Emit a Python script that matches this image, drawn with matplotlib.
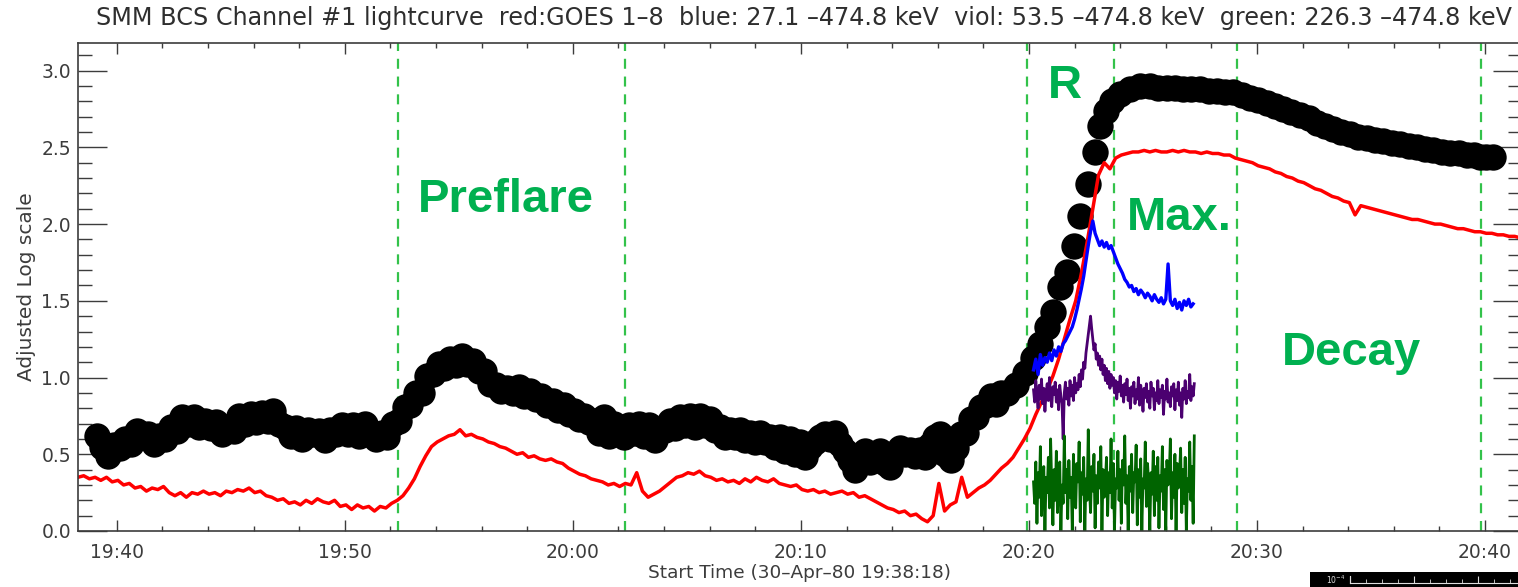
import matplotlib
matplotlib.use("Agg")
import matplotlib.pyplot as plt
from matplotlib.ticker import MultipleLocator, FixedLocator, FixedFormatter, FormatStrFormatter
import numpy as np

plt.rcParams['font.family'] = ['DejaVu Sans']

# time axis: minutes after 19:00 UT on 30-Apr-80
TICK_MIN = [40, 50, 60, 70, 80, 90, 100]
TICK_LABELS = ['19:40', '19:50', '20:00', '20:10', '20:20', '20:30', '20:40']

# phase boundaries (minutes after 19:00)
PHASE_MIN = [52.32, 62.28, 79.91, 83.73, 89.12, 99.82]

# SMM BCS channel 1 (black circles)
bcs_t = [39.12, 39.37, 39.62, 39.87, 40.12, 40.37, 40.62, 40.87, 41.12, 41.37,
         41.62, 41.87, 42.12, 42.37, 42.62, 42.87, 43.12, 43.37, 43.62, 43.87,
         44.12, 44.37, 44.62, 44.87, 45.12, 45.37, 45.62, 45.87, 46.12, 46.37,
         46.62, 46.87, 47.12, 47.37, 47.62, 47.87, 48.12, 48.37, 48.62, 48.87,
         49.12, 49.37, 49.62, 49.87, 50.12, 50.37, 50.62, 50.87, 51.12, 51.37,
         51.62, 51.87, 52.12, 52.37, 52.62, 52.87, 53.12, 53.37, 53.62, 53.87,
         54.12, 54.37, 54.62, 54.87, 55.12, 55.37, 55.62, 55.87, 56.12, 56.37,
         56.62, 56.87, 57.12, 57.37, 57.62, 57.87, 58.12, 58.37, 58.62, 58.87,
         59.12, 59.37, 59.62, 59.84, 60.06, 60.28, 60.50, 60.72, 60.94, 61.16,
         61.38, 61.60, 61.82, 62.04, 62.26, 62.48, 62.70, 62.92, 63.14, 63.36,
         63.58, 63.80, 64.02, 64.24, 64.46, 64.68, 64.90, 65.12, 65.34, 65.56,
         65.78, 66.00, 66.22, 66.44, 66.66, 66.88, 67.10, 67.32, 67.54, 67.76,
         67.98, 68.20, 68.42, 68.64, 68.86, 69.08, 69.30, 69.52, 69.74, 69.96,
         70.18, 70.40, 70.62, 70.84, 71.06, 71.28, 71.50, 71.72, 71.94, 72.16,
         72.38, 72.60, 72.82, 73.04, 73.26, 73.48, 73.70, 73.92, 74.14, 74.36,
         74.58, 74.80, 75.02, 75.24, 75.46, 75.68, 75.90, 76.12, 76.34, 76.56,
         76.78, 77.00, 77.22, 77.44, 77.66, 77.88, 78.10, 78.32, 78.54, 78.76,
         79.04, 79.43, 79.82, 80.18, 80.48, 80.79, 81.05, 81.36, 81.67, 81.97,
         82.24, 82.59, 82.89, 83.11, 83.38, 83.64, 83.99, 84.43, 84.87, 85.31,
         85.68, 86.05, 86.40, 86.75, 87.12, 87.50, 87.88, 88.25, 88.60, 88.95,
         89.32, 89.69, 90.06, 90.44, 90.80, 91.14, 91.50, 91.89, 92.26, 92.63,
         92.98, 93.33, 93.70, 94.08, 94.45, 94.82, 95.18, 95.53, 95.90, 96.27,
         96.65, 97.02, 97.37, 97.72, 98.10, 98.46, 98.84, 99.21, 99.50, 99.78,
         100.05, 100.35]
bcs_v = [0.62, 0.55, 0.49, 0.56, 0.54, 0.60, 0.57, 0.65, 0.61, 0.63,
         0.57, 0.62, 0.60, 0.68, 0.65, 0.74, 0.70, 0.74, 0.68, 0.72,
         0.67, 0.71, 0.63, 0.68, 0.65, 0.75, 0.70, 0.76, 0.71, 0.77,
         0.72, 0.78, 0.70, 0.68, 0.62, 0.67, 0.60, 0.66, 0.63, 0.65,
         0.59, 0.66, 0.63, 0.69, 0.63, 0.69, 0.62, 0.70, 0.63, 0.60,
         0.64, 0.61, 0.70, 0.72, 0.81, 0.82, 0.90, 0.90, 1.01, 1.02,
         1.09, 1.06, 1.12, 1.08, 1.14, 1.09, 1.11, 1.04, 1.04, 0.96,
         0.95, 0.91, 0.93, 0.90, 0.94, 0.88, 0.91, 0.86, 0.88, 0.82,
         0.85, 0.79, 0.82, 0.76, 0.78, 0.73, 0.75, 0.71, 0.72, 0.64,
         0.74, 0.62, 0.70, 0.64, 0.61, 0.69, 0.64, 0.70, 0.62, 0.69,
         0.59, 0.65, 0.66, 0.72, 0.67, 0.74, 0.69, 0.75, 0.68, 0.75,
         0.69, 0.73, 0.66, 0.68, 0.61, 0.66, 0.61, 0.66, 0.59, 0.64,
         0.58, 0.64, 0.58, 0.61, 0.55, 0.61, 0.52, 0.60, 0.50, 0.58,
         0.48, 0.55, 0.58, 0.61, 0.63, 0.60, 0.64, 0.57, 0.52, 0.46,
         0.40, 0.49, 0.52, 0.45, 0.50, 0.52, 0.44, 0.42, 0.51, 0.54,
         0.50, 0.53, 0.49, 0.53, 0.48, 0.56, 0.61, 0.63, 0.50, 0.46,
         0.54, 0.63, 0.64, 0.73, 0.74, 0.81, 0.82, 0.88, 0.83, 0.90,
         0.90, 0.95, 1.03, 1.13, 1.22, 1.33, 1.43, 1.59, 1.69, 1.86,
         2.05, 2.26, 2.47, 2.64, 2.74, 2.80, 2.85, 2.88, 2.90, 2.90,
         2.89, 2.89, 2.89, 2.88, 2.88, 2.88, 2.87, 2.87, 2.86, 2.86,
         2.84, 2.82, 2.81, 2.79, 2.77, 2.75, 2.73, 2.71, 2.69, 2.66,
         2.64, 2.62, 2.60, 2.59, 2.57, 2.56, 2.55, 2.54, 2.53, 2.52,
         2.51, 2.50, 2.49, 2.48, 2.47, 2.46, 2.46, 2.45, 2.45, 2.44,
         2.44, 2.44]

# GOES 1-8 A, one sample every 15 s from 19:38:18
goes_t0 = 38.30
goes_dt = 0.25
goes_v = [0.35, 0.36, 0.34, 0.35, 0.33, 0.35, 0.32, 0.33, 0.30, 0.31,
          0.28, 0.29, 0.26, 0.28, 0.27, 0.29, 0.25, 0.23, 0.25, 0.22,
          0.25, 0.24, 0.26, 0.24, 0.25, 0.23, 0.26, 0.25, 0.27, 0.26,
          0.28, 0.25, 0.26, 0.23, 0.22, 0.20, 0.21, 0.18, 0.19, 0.17,
          0.20, 0.18, 0.21, 0.19, 0.18, 0.20, 0.16, 0.17, 0.14, 0.17,
          0.15, 0.16, 0.13, 0.16, 0.15, 0.18, 0.20, 0.23, 0.28, 0.34,
          0.42, 0.49, 0.55, 0.58, 0.60, 0.62, 0.63, 0.66, 0.62, 0.63,
          0.61, 0.60, 0.58, 0.57, 0.55, 0.54, 0.52, 0.50, 0.51, 0.48,
          0.49, 0.47, 0.46, 0.47, 0.45, 0.44, 0.41, 0.39, 0.37, 0.36,
          0.34, 0.33, 0.32, 0.30, 0.31, 0.29, 0.31, 0.30, 0.38, 0.26,
          0.22, 0.24, 0.26, 0.29, 0.32, 0.35, 0.36, 0.38, 0.37, 0.39,
          0.36, 0.35, 0.33, 0.34, 0.32, 0.33, 0.31, 0.34, 0.32, 0.35,
          0.33, 0.32, 0.34, 0.31, 0.30, 0.29, 0.30, 0.27, 0.26, 0.27,
          0.25, 0.26, 0.24, 0.25, 0.26, 0.24, 0.25, 0.22, 0.23, 0.21,
          0.19, 0.17, 0.15, 0.14, 0.12, 0.13, 0.10, 0.11, 0.08, 0.06,
          0.10, 0.31, 0.13, 0.17, 0.19, 0.35, 0.22, 0.25, 0.28, 0.30,
          0.33, 0.37, 0.41, 0.44, 0.48, 0.54, 0.60, 0.67, 0.76, 0.84,
          0.92, 1.01, 1.12, 1.25, 1.38, 1.50, 1.68, 1.88, 2.10, 2.32,
          2.40, 2.36, 2.43, 2.45, 2.46, 2.47, 2.47, 2.48, 2.47, 2.48,
          2.47, 2.47, 2.48, 2.47, 2.48, 2.47, 2.47, 2.46, 2.47, 2.46,
          2.46, 2.45, 2.45, 2.43, 2.42, 2.41, 2.40, 2.38, 2.37, 2.36,
          2.34, 2.33, 2.31, 2.30, 2.28, 2.27, 2.25, 2.23, 2.22, 2.20,
          2.18, 2.17, 2.15, 2.14, 2.06, 2.12, 2.11, 2.10, 2.09, 2.08,
          2.07, 2.06, 2.05, 2.04, 2.03, 2.03, 2.02, 2.01, 2.00, 2.00,
          1.99, 1.98, 1.97, 1.97, 1.96, 1.95, 1.95, 1.94, 1.94, 1.93,
          1.93, 1.92, 1.92, 1.91]

# HXRBS channels from 20:20:12; blue every 6 s, violet and green every 3 s
hxr_t0 = 80.2
blue_dt = 0.1
blue_v = [1.05, 1.12, 1.02, 1.15, 1.08, 1.13, 1.10, 1.16, 1.11, 1.18,
          1.14, 1.20, 1.17, 1.22, 1.24, 1.27, 1.30, 1.33, 1.38, 1.44,
          1.51, 1.58, 1.66, 1.76, 1.86, 1.95, 2.02, 1.94, 1.90, 1.86,
          1.89, 1.85, 1.88, 1.84, 1.86, 1.82, 1.78, 1.74, 1.71, 1.68,
          1.64, 1.62, 1.59, 1.60, 1.56, 1.58, 1.54, 1.57, 1.55, 1.52,
          1.55, 1.53, 1.50, 1.54, 1.51, 1.49, 1.52, 1.48, 1.51, 1.74,
          1.50, 1.47, 1.51, 1.45, 1.49, 1.44, 1.50, 1.47, 1.51, 1.46,
          1.48]
fast_dt = 0.05
viol_v = [0.92, 0.84, 0.98, 0.88, 0.80, 0.95, 0.86, 0.99, 0.83, 0.93,
          0.78, 0.90, 0.96, 0.85, 1.00, 0.87, 0.81, 0.94, 0.89, 0.97,
          0.84, 0.92, 0.79, 0.95, 0.88, 0.83, 0.60, 0.90, 0.97, 0.86,
          0.93, 0.82, 0.98, 0.88, 0.95, 0.85, 1.00, 0.90, 0.96, 0.92,
          1.02, 0.94, 1.05, 0.99, 1.10, 1.06, 1.16, 1.22, 1.28, 1.34,
          1.40, 1.32, 1.25, 1.18, 1.22, 1.12, 1.16, 1.08, 1.14, 1.05,
          1.12, 1.02, 1.08, 0.98, 1.06, 0.96, 1.04, 0.93, 1.02, 0.95,
          1.00, 0.90, 0.98, 0.86, 0.97, 0.91, 1.01, 0.88, 0.95, 0.84,
          0.96, 0.89, 0.99, 0.85, 0.93, 0.80, 0.94, 0.88, 0.97, 0.83,
          0.92, 0.86, 1.00, 0.82, 0.95, 0.89, 0.78, 0.93, 0.87, 0.96,
          0.84, 0.91, 0.80, 0.97, 0.88, 0.93, 0.79, 0.90, 0.85, 0.98,
          0.83, 0.92, 0.87, 0.95, 0.76, 0.91, 0.86, 0.99, 0.84, 0.90,
          0.81, 0.94, 0.88, 0.96, 0.79, 0.92, 0.85, 0.97, 0.82, 0.90,
          0.74, 0.93, 0.86, 0.98, 0.83, 0.91, 0.87, 1.02, 0.85, 0.94,
          0.88, 0.96]
green_v = [0.32, 0.18, 0.45, 0.05, 0.38, 0.22, 0.55, 0.10, 0.30, 0.42,
           0.00, 0.35, 0.25, 0.48, 0.15, 0.60, 0.28, 0.04, 0.40, 0.20,
           0.52, 0.12, 0.36, 0.45, 0.00, 0.30, 0.18, 0.62, 0.25, 0.40,
           0.08, 0.46, 0.22, 0.35, 0.00, 0.50, 0.28, 0.15, 0.44, 0.32,
           0.58, 0.06, 0.38, 0.24, 0.48, 0.00, 0.34, 0.20, 0.66, 0.30,
           0.12, 0.42, 0.26, 0.50, 0.02, 0.36, 0.18, 0.45, 0.28, 0.55,
           0.00, 0.40, 0.22, 0.32, 0.48, 0.10, 0.38, 0.25, 0.60, 0.15,
           0.44, 0.00, 0.34, 0.28, 0.52, 0.20, 0.40, 0.05, 0.46, 0.30,
           0.62, 0.18, 0.36, 0.00, 0.42, 0.26, 0.50, 0.12, 0.38, 0.32,
           0.56, 0.04, 0.40, 0.22, 0.47, 0.00, 0.34, 0.28, 0.58, 0.16,
           0.44, 0.30, 0.00, 0.38, 0.24, 0.52, 0.10, 0.42, 0.20, 0.48,
           0.02, 0.36, 0.26, 0.55, 0.14, 0.40, 0.00, 0.46, 0.30, 0.35,
           0.60, 0.08, 0.38, 0.22, 0.50, 0.00, 0.44, 0.28, 0.36, 0.54,
           0.12, 0.40, 0.18, 0.48, 0.00, 0.34, 0.26, 0.58, 0.20, 0.42,
           0.05, 0.62]

PHASE_NAMES = ['Preflare', 'R', 'Max.', 'Decay']
PHASE_TEXT_X = [53.2, 80.83, 84.30, 91.1]
PHASE_TEXT_Y = [2.08, 2.82, 1.96, 1.08]

TITLE = ('SMM BCS Channel #1 lightcurve  red:GOES 1\u20138  blue: 27.1 \u2013474.8 keV  '
         'viol: 53.5 \u2013474.8 keV  green: 226.3 \u2013474.8 keV')

W, H = 1518, 587
fig = plt.figure(figsize=(W / 100, H / 100), dpi=100)
ax = fig.add_axes([78 / W, (H - 531) / H, (1522 - 78) / W, (531 - 43) / H])

goes_t = goes_t0 + goes_dt * np.arange(len(goes_v))
blue_t = hxr_t0 + blue_dt * np.arange(len(blue_v))
fast_t = hxr_t0 + fast_dt * np.arange(len(viol_v))

ax.plot(bcs_t, bcs_v, 'o', color='black', ms=19, mew=0)
ax.plot(goes_t, goes_v, color='#ff0000', lw=2.5)
ax.plot(blue_t, blue_v, color='#0000ff', lw=2.4)
ax.plot(fast_t, viol_v, color='#4b0070', lw=2.0)
ax.plot(fast_t[:len(green_v)], green_v, color='#006400', lw=2.0)

for m in PHASE_MIN:
    ax.axvline(m, color='#33c24a', lw=1.6, ls=(0, (4.5, 3.5)), zorder=1)

for name, tx, ty in zip(PHASE_NAMES, PHASE_TEXT_X, PHASE_TEXT_Y):
    ax.text(tx, ty, name, color='#00b050', fontsize=34, fontweight='bold',
            family='Liberation Sans', ha='left', va='baseline')

ax.set_xlim(38.30, 101.62)
ax.set_ylim(0, 3.18)

grey = '#3c3c3c'
ax.xaxis.set_major_locator(FixedLocator(TICK_MIN))
ax.xaxis.set_major_formatter(FixedFormatter(TICK_LABELS))
ax.xaxis.set_minor_locator(MultipleLocator(2))
ax.yaxis.set_major_locator(MultipleLocator(0.5))
ax.yaxis.set_minor_locator(MultipleLocator(0.1))
ax.yaxis.set_major_formatter(FormatStrFormatter('%.1f'))
ax.tick_params(axis='x', which='both', direction='in', top=True, bottom=True,
               color=grey, labelcolor=grey, labelsize=13.5, pad=9)
ax.tick_params(axis='x', which='major', length=8, width=1.0)
ax.tick_params(axis='x', which='minor', length=3.5, width=1.0)
ax.tick_params(axis='y', which='both', direction='in', left=True, right=True,
               color=grey, labelcolor=grey, labelsize=13.5, pad=5)
ax.tick_params(axis='y', which='major', length=21, width=1.0)
ax.tick_params(axis='y', which='minor', length=10, width=1.0)
for s in ax.spines.values():
    s.set_color(grey)
    s.set_linewidth(1.2)

ax.set_xlabel('Start Time (30\u2013Apr\u201380 19:38:18)', fontsize=13.3, color=grey, labelpad=1)
ax.set_ylabel('Adjusted Log scale', fontsize=14.5, color=grey, labelpad=4)
fig.text(804.5 / W, 1 - 18 / H, TITLE, ha='center', va='center', fontsize=17.2, color='#2e2e2e')

# leftover colour-bar strip in the lower right corner
cb = fig.add_axes([1310 / W, 0, 208 / W, 15 / H])
cb.set_facecolor('black')
cb.set_xticks([])
cb.set_yticks([])
for s in cb.spines.values():
    s.set_visible(False)
cb.text(0.17, 0.45, '10$^{-4}$', color='#dddddd', fontsize=5.5, ha='right', va='center',
        transform=cb.transAxes)
ruler = fig.add_axes([1350 / W, 4 / H, 180 / W, 7 / H])
ruler.patch.set_alpha(0)
ruler.set_xlim(0, 180)
ruler.xaxis.set_major_locator(MultipleLocator(64))
ruler.xaxis.set_minor_locator(MultipleLocator(16))
ruler.tick_params(axis='x', which='both', direction='in', color='#dddddd', labelbottom=False)
ruler.tick_params(axis='x', which='major', length=5)
ruler.tick_params(axis='x', which='minor', length=3)
ruler.set_yticks([])
for k in ['top', 'right']:
    ruler.spines[k].set_visible(False)
ruler.spines['bottom'].set_color('#dddddd')
ruler.spines['left'].set_color('#dddddd')

fig.savefig('out.png', dpi=100)
